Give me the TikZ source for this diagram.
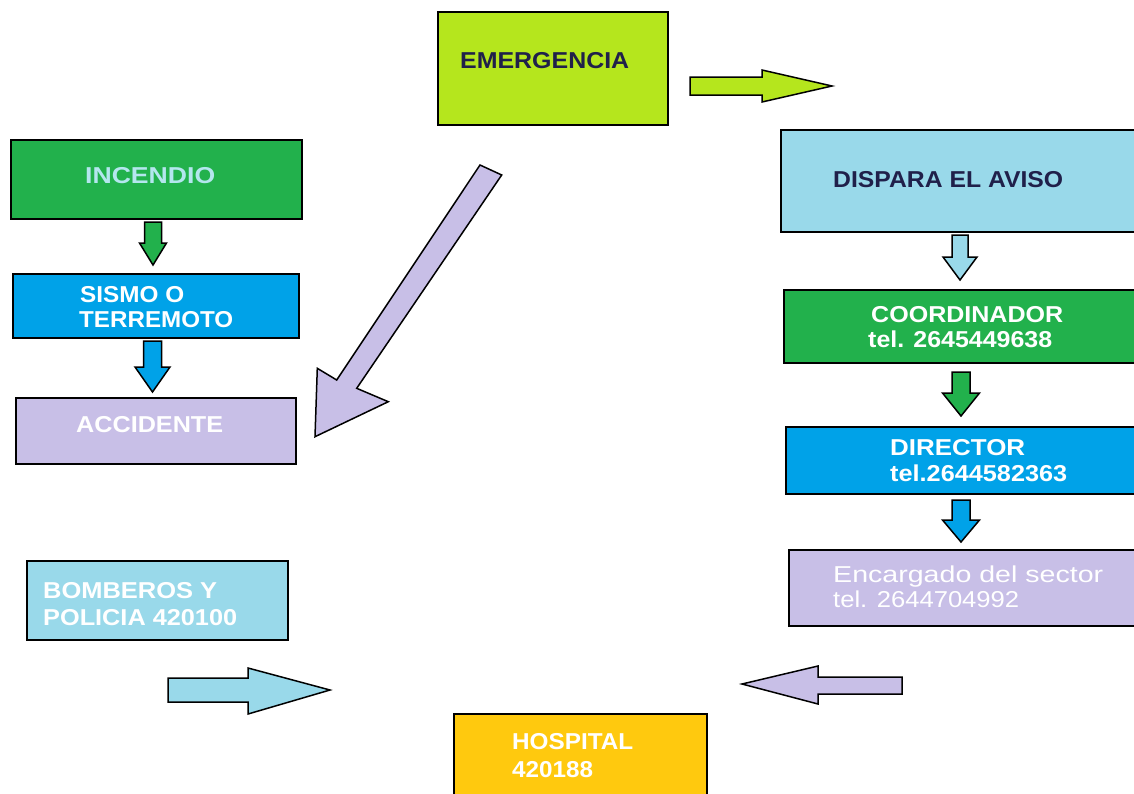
\documentclass[tikz,border=0pt]{standalone}
\usepackage{fontspec}
\setmainfont{Liberation Sans}
\usepackage{graphicx}

% palette
\definecolor{cLime}{HTML}{B5E61D}
\definecolor{cGreen}{HTML}{22B14C}
\definecolor{cBlue}{HTML}{00A2E8}
\definecolor{cLav}{HTML}{C8BFE7}
\definecolor{cSky}{HTML}{99D9EA}
\definecolor{cGold}{HTML}{FFC90E}
\definecolor{cNavy}{HTML}{20204A}
\definecolor{cPale}{HTML}{B4E6EE}

% a text line stretched horizontally to a given width (in pt)
\newcommand{\sx}[2]{\resizebox{#1pt}{\height}{#2}}

% downward block arrow: centre x, top y, head base y, tip y, shaft half-width, head half-width, fill
\newcommand{\vdarrow}[7]{%
  \draw[blockarrow, fill=#7] (#1-#5,#2) -- (#1+#5,#2) -- (#1+#5,#3) -- (#1+#6,#3)
    -- (#1,#4) -- (#1-#6,#3) -- (#1-#5,#3) -- cycle;}

\tikzset{
  box/.style={draw=black, line width=2pt, inner sep=0pt, anchor=north west},
  lbl/.style={anchor=base west, inner sep=0pt, font=\fontsize{23}{26}\selectfont\bfseries},
  lblr/.style={anchor=base west, inner sep=0pt, font=\fontsize{23}{26}\selectfont},
  blockarrow/.style={draw=black, line width=1.5pt, line join=miter},
}

\begin{document}
\begin{tikzpicture}[x=1pt, y=-1pt]
\useasboundingbox (0,0) rectangle (1134,793);
\fill[white] (0,0) rectangle (1134,793);
\clip (0,0) rectangle (1134,793);

% ---- boxes ----
\node[box, fill=cLime,  minimum width=230, minimum height=113] (emerg)  at (437,11)  {};
\node[box, fill=cGreen, minimum width=291, minimum height=79]  (incend) at (10,139)  {};
\node[box, fill=cBlue,  minimum width=286, minimum height=64]  (sismo)  at (12,273)  {};
\node[box, fill=cLav,   minimum width=280, minimum height=66]  (accid)  at (15,397)  {};
\node[box, fill=cSky,   minimum width=261, minimum height=79]  (bomb)   at (26,560)  {};
\node[box, fill=cSky,   minimum width=380, minimum height=102] (aviso)  at (780,129) {};
\node[box, fill=cGreen, minimum width=380, minimum height=73]  (coord)  at (783,289) {};
\node[box, fill=cBlue,  minimum width=380, minimum height=67]  (direc)  at (785,426) {};
\node[box, fill=cLav,   minimum width=380, minimum height=76]  (encarg) at (788,549) {};
\node[box, fill=cGold,  minimum width=253, minimum height=100] (hosp)   at (453,713) {};

% ---- labels ----
\node[lbl, text=cNavy] (emergT)  at (460,68)  {\sx{169}{EMERGENCIA}};
\node[lbl, text=cPale] (incendT) at (85,183)  {\sx{130}{INCENDIO}};
\node[lbl, text=white] (sismoA)  at (80,302)  {\sx{104}{SISMO O}};
\node[lbl, text=white] (sismoB)  at (79,327)  {\sx{154}{TERREMOTO}};
\node[lbl, text=white] (accidT)  at (76,432)  {\sx{147}{ACCIDENTE}};
\node[lbl, text=white] (bombA)   at (43,598)  {\sx{174}{BOMBEROS Y}};
\node[lbl, text=white] (bombB)   at (43,625)  {\sx{194}{POLICIA 420100}};
\node[lbl, text=cNavy] (avisoT)  at (833,187) {\sx{230}{DISPARA EL AVISO}};
\node[lbl, text=white] (coordA)  at (871,322) {\sx{192}{COORDINADOR}};
\node[lbl, text=white] (coordB)  at (868,347) {\sx{184}{tel. 2645449638}};
\node[lbl, text=white] (direcA)  at (890,455) {\sx{135}{DIRECTOR}};
\node[lbl, text=white] (direcB)  at (890,481) {\sx{177}{tel.2644582363}};
\node[lblr, text=white] (encargA) at (833,582) {\sx{270}{Encargado del sector}};
\node[lblr, text=white] (encargB) at (833,607) {\sx{186}{tel. 2644704992}};
\node[lbl, text=white] (hospA)   at (512,749) {\sx{121}{HOSPITAL}};
\node[lbl, text=white] (hospB)   at (512,777) {\sx{81}{420188}};

% ---- vertical block arrows between the stacked boxes ----
\vdarrow{153}{222}{243}{265}{8.5}{13.5}{cGreen}
\vdarrow{152.5}{341}{367}{392}{9}{17.5}{cBlue}
\vdarrow{960}{235}{257}{280}{8}{17}{cSky}
\vdarrow{961}{372}{393}{416}{9}{18.5}{cGreen}
\vdarrow{961}{500}{520}{542}{9}{18.5}{cBlue}

% ---- free-standing block arrows ----
% from EMERGENCIA towards the alarm
\draw[blockarrow, fill=cLime] (690,77) -- (762,77) -- (762,70) -- (832,86)
  -- (762,102) -- (762,95) -- (690,95) -- cycle;
% diagonal arrow down to ACCIDENTE
\draw[blockarrow, fill=cLav] (480,165) -- (501.7,175) -- (356.7,388.3) -- (388.3,401.7)
  -- (315,436.7) -- (317.3,368.3) -- (336.7,380) -- cycle;
% towards the hospital, from the left
\draw[blockarrow, fill=cSky] (168,678) -- (248,678) -- (248,668) -- (330,690)
  -- (248,714) -- (248,702) -- (168,702) -- cycle;
% towards the hospital, from the right
\draw[blockarrow, fill=cLav] (902,677) -- (818,677) -- (818,666) -- (742,684)
  -- (818,704) -- (818,694) -- (902,694) -- cycle;
\end{tikzpicture}
\end{document}
